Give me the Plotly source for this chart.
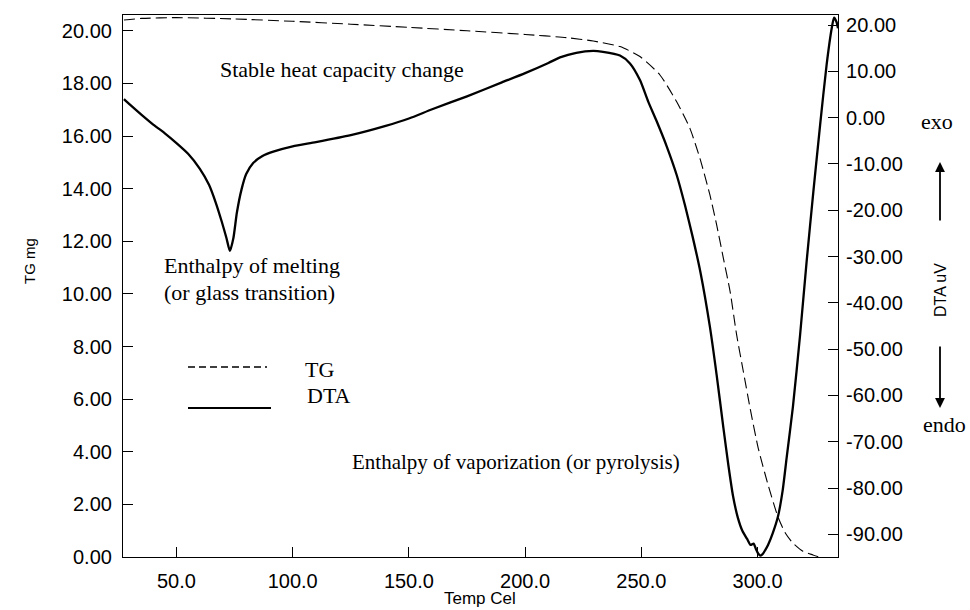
import plotly.graph_objects as go

# ---------------- data ----------------
dta_temp = [27.4, 30, 35, 40, 45, 50, 55, 60, 64, 67, 69.5, 71.5, 73, 74.5, 76, 78, 80, 83, 87, 92,
            100, 110, 125, 140, 150, 160, 175, 190, 200, 210, 215, 222, 229.3, 233.5, 240.8, 245.1,
            249.4, 253.0, 256.6, 260.9, 265.2, 268.8, 272.0, 275.5, 279.5, 282.4, 285.3,
            287.5, 289.4, 291.5, 293.5, 295.5, 297.0, 298.3, 299.3, 300.3, 301.3, 302.3, 303.3,
            304.5, 306.5, 308.8, 310.8, 312.5, 315.2, 318.3, 321.1, 324.0, 326.9, 329.7, 331.9,
            332.9, 334.0, 334.6]
dta_uv = [4.0, 2.8, 0.6, -1.5, -3.4, -5.5, -7.8, -11, -14.5, -18.5, -22.5, -26, -28.8, -26, -20.5,
          -15.5, -12.2, -9.8, -8.3, -7.3, -6.2, -5.3, -3.8, -1.8, -0.2, 1.8, 4.6, 7.6, 9.6, 11.8,
          13.0, 14.0, 14.4, 14.2, 13.4, 11.7, 8.1, 3.4, -0.8, -6.2, -12.4, -19.0, -25.6, -33.6,
          -45.2, -55.6, -67.0, -75.3, -81.6, -86.4, -89.3, -91.0, -92.3, -92.0, -93.2,
          -94.2, -94.6, -94.2, -93.4, -92.3, -89.8, -86.1, -80.5, -73.5, -62.5, -46.9, -31.1,
          -16.0, -1.6, 11.4, 19.3, 21.6, 20.6, 19.3]

tg_temp = [27.4, 35, 50, 75, 100, 125, 150, 175, 200, 217.9, 229.3, 240.8, 249.4, 258.0, 265.2,
           270.9, 275.2, 279.5, 282.4, 285.3, 288.2, 291.0, 293.9, 296.8, 300.3, 304.5, 308.8,
           312.0, 315.2, 319.5, 323.8, 326.5]
tg_mg = [20.41, 20.47, 20.5, 20.45, 20.36, 20.25, 20.13, 20.0, 19.86, 19.74, 19.61, 19.40, 19.02,
         18.32, 17.30, 16.29, 15.15, 13.76, 12.62, 11.35, 10.08, 8.44, 7.04, 5.65, 4.13, 2.75,
         1.52, 0.9, 0.53, 0.22, 0.08, 0.0]

x_ticks = [50, 100, 150, 200, 250, 300]
x_tick_text = ["50.0", "100.0", "150.0", "200.0", "250.0", "300.0"]
tg_ticks = [0, 2, 4, 6, 8, 10, 12, 14, 16, 18, 20]
dta_ticks = [20, 10, 0, -10, -20, -30, -40, -50, -60, -70, -80, -90]
tg_tick_text = [f"{v:.2f}" for v in tg_ticks]
dta_tick_text = [f"{v:.2f}" for v in dta_ticks]

# ---------------- layout helpers ----------------
W, H = 970, 610
L, R, T, B = 123, 838, 15, 557


def px(x):
    return (x - L) / (R - L)


def py(y):
    return (B - y) / (B - T)


SERIF = "Liberation Serif, Times New Roman, serif"
SANS = "Liberation Sans, Arial, sans-serif"

fig = go.Figure()
fig.add_trace(go.Scatter(x=tg_temp, y=tg_mg, mode="lines", name="TG",
                         line=dict(color="black", width=1.1, dash="11px,5px", shape="spline",
                                   smoothing=0.6), yaxis="y"))
fig.add_trace(go.Scatter(x=dta_temp, y=dta_uv, mode="lines", name="DTA",
                         line=dict(color="black", width=2.3, shape="spline", smoothing=0.6),
                         yaxis="y2"))

axis_common = dict(showline=True, linecolor="black", linewidth=1.2, ticks="inside", ticklen=10,
                   tickcolor="black", tickwidth=1, showgrid=False, zeroline=False,
                   tickfont=dict(family=SANS, size=20, color="black"))

fig.update_layout(
    width=W, height=H,
    margin=dict(l=L, r=W - R, t=T, b=H - B),
    plot_bgcolor="white", paper_bgcolor="white",
    showlegend=False,
    xaxis=dict(range=[27, 334.6], tickvals=x_ticks, ticktext=x_tick_text, mirror=True,
               ticklabelstandoff=6, **axis_common),
    yaxis=dict(range=[0, 20.6], tickvals=tg_ticks, ticktext=tg_tick_text, ticklabelstandoff=6,
               **axis_common),
    yaxis2=dict(range=[-94.9, 22.16], tickvals=dta_ticks, ticktext=dta_tick_text,
                overlaying="y", side="right", ticklabelstandoff=3, **axis_common),
)

ann = []


def text(s, x, y, size, family=SERIF, xanchor="center", angle=0):
    ann.append(dict(text=s, x=px(x), y=py(y), xref="paper", yref="paper", showarrow=False,
                    xanchor=xanchor, yanchor="middle", textangle=angle,
                    font=dict(family=family, size=size, color="black")))


text("Stable heat capacity change", 218, 70, 22, xanchor="left")
text("Enthalpy of melting", 162, 265, 22, xanchor="left")
text("(or glass transition)", 162, 292, 22, xanchor="left")
text("Enthalpy of vaporization (or pyrolysis)", 350, 462, 21, xanchor="left")
text("TG", 303, 369, 22, xanchor="left")
text("DTA", 305, 395, 22, xanchor="left")
text("exo", 937, 121, 22)
text("endo", 944, 424, 22)
text("DTA uV", 940, 290, 16, family=SANS, angle=-90)
text("TG mg", 29, 261, 15, family=SANS, angle=-90)
text("Temp Cel", 480, 598, 17, family=SANS)

# arrows exo / endo
for tail, tip in [((940, 222), (940, 162)), ((940, 345), (940, 408))]:
    ann.append(dict(x=px(tip[0]), y=py(tip[1]), xref="paper", yref="paper",
                    ax=tail[0] - tip[0], ay=tail[1] - tip[1], axref="pixel", ayref="pixel",
                    showarrow=True, arrowhead=2, arrowsize=1.1, arrowwidth=1.8,
                    arrowcolor="black", text=""))

fig.update_layout(annotations=ann)

# legend samples
fig.add_shape(type="line", xref="paper", yref="paper", x0=px(188), x1=px(267), y0=py(367),
              y1=py(367), line=dict(color="black", width=1.6, dash="7px,4px"))
fig.add_shape(type="line", xref="paper", yref="paper", x0=px(188), x1=px(271), y0=py(408),
              y1=py(408), line=dict(color="black", width=1.8))

fig.write_html("out.html")
